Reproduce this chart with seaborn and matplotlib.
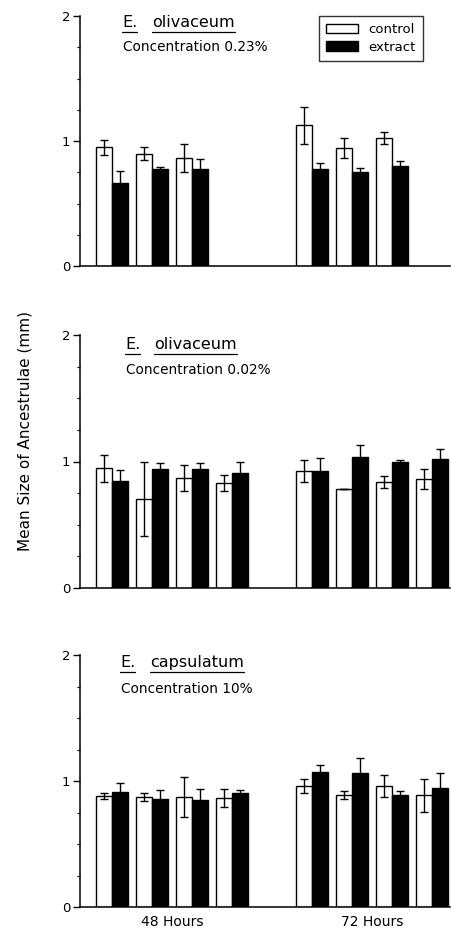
import numpy as np
import pandas as pd
import matplotlib
matplotlib.use("Agg")
import matplotlib.pyplot as plt
import matplotlib.transforms as mtransforms
from matplotlib.patches import Patch
from matplotlib.ticker import MultipleLocator
import seaborn as sns

# ---------------- data ----------------
hour_labels = ["48 Hours", "72 Hours"]
treatments = ["control", "extract"]

# panel 1: E. olivaceum 0.23%
p1_slots = [0, 1, 2, 5, 6, 7]
p1_control = [0.95, 0.90, 0.865, 1.125, 0.945, 1.025]
p1_control_err = [0.06, 0.055, 0.11, 0.145, 0.08, 0.05]
p1_extract = [0.665, 0.775, 0.775, 0.775, 0.75, 0.80]
p1_extract_err = [0.095, 0.02, 0.08, 0.047, 0.035, 0.04]

# panel 2: E. olivaceum 0.02%
p2_slots = [0, 1, 2, 3, 5, 6, 7, 8]
p2_control = [0.945, 0.705, 0.87, 0.83, 0.925, 0.78, 0.84, 0.86]
p2_control_err = [0.105, 0.29, 0.10, 0.06, 0.085, 0.0, 0.047, 0.08]
p2_extract = [0.845, 0.94, 0.94, 0.91, 0.925, 1.035, 1.0, 1.02]
p2_extract_err = [0.09, 0.05, 0.05, 0.09, 0.10, 0.095, 0.013, 0.08]

# panel 3: E. capsulatum 10%
p3_slots = [0, 1, 2, 3, 5, 6, 7, 8]
p3_control = [0.88, 0.875, 0.875, 0.865, 0.96, 0.89, 0.96, 0.885]
p3_control_err = [0.025, 0.03, 0.16, 0.075, 0.058, 0.032, 0.087, 0.128]
p3_extract = [0.915, 0.855, 0.85, 0.905, 1.075, 1.06, 0.885, 0.945]
p3_extract_err = [0.07, 0.077, 0.085, 0.024, 0.055, 0.12, 0.035, 0.12]

panels = [
    dict(genus="E.", species="olivaceum", conc="Concentration 0.23%",
         slots=p1_slots, c=p1_control, ce=p1_control_err, e=p1_extract, ee=p1_extract_err),
    dict(genus="E.", species="olivaceum", conc="Concentration 0.02%",
         slots=p2_slots, c=p2_control, ce=p2_control_err, e=p2_extract, ee=p2_extract_err),
    dict(genus="E.", species="capsulatum", conc="Concentration 10%",
         slots=p3_slots, c=p3_control, ce=p3_control_err, e=p3_extract, ee=p3_extract_err),
]

# ---------------- style ----------------
sns.set_style("ticks")
plt.rcParams["font.family"] = ["DejaVu Sans"]
plt.rcParams["axes.linewidth"] = 1.1
for k in ["text.color", "axes.labelcolor", "xtick.color", "ytick.color", "axes.edgecolor"]:
    plt.rcParams[k] = "black"

fig = plt.figure(figsize=(4.51, 9.36), dpi=100)

# axes boxes (left, bottom, width, height) in figure fraction
boxes = [
    (80 / 451, 1 - 266 / 936, 370 / 451, 250 / 936),
    (80 / 451, 1 - 588 / 936, 370 / 451, 253 / 936),
    (80 / 451, 1 - 907 / 936, 370 / 451, 252 / 936),
]
# text placement per panel (axes fraction): genus x, species x, title y, conc x, conc y
text_pos = [
    (0.114, 0.195, 0.956, 0.117, 0.860),
    (0.122, 0.200, 0.945, 0.124, 0.846),
    (0.108, 0.189, 0.952, 0.111, 0.850),
]

palette = {"control": "white", "extract": "black"}

axes = []
for i, (p, box) in enumerate(zip(panels, boxes)):
    ax = fig.add_axes(box)
    axes.append(ax)
    df = pd.DataFrame({
        "slot": list(p["slots"]) * 2,
        "mean": list(p["c"]) + list(p["e"]),
        "err": list(p["ce"]) + list(p["ee"]),
        "treatment": ["control"] * len(p["slots"]) + ["extract"] * len(p["slots"]),
    })
    sns.barplot(data=df, x="slot", y="mean", hue="treatment", hue_order=treatments,
                native_scale=True, palette=palette, edgecolor="black", linewidth=1.0,
                errorbar=None, width=0.8, ax=ax, legend=False)
    # error bars from bar geometry
    for cont, tr in zip(ax.containers, treatments):
        sub = df[df["treatment"] == tr].sort_values("slot")
        xs = [b.get_x() + b.get_width() / 2 for b in cont]
        ys = [b.get_height() for b in cont]
        ax.errorbar(xs, ys, yerr=sub["err"].values, fmt="none", ecolor="black",
                    elinewidth=1.0, capsize=3, capthick=1.0, zorder=5)

    ax.set_xlim(-0.8, 8.45)
    ax.set_ylim(0, 2)
    ax.set_yticks([0, 1, 2])
    ax.set_yticklabels(["0", "1", "2"], fontsize=9.5)
    ax.yaxis.set_minor_locator(MultipleLocator(0.25))
    ax.tick_params(axis="y", which="major", direction="out", length=5, width=1, pad=2)
    ax.tick_params(axis="y", which="minor", direction="out", length=2, width=0.8)
    sns.despine(ax=ax)
    ax.set_xlabel("")
    ax.set_ylabel("")
    if i == 2:
        ax.set_xticks([1.5, 6.5])
        ax.set_xticklabels(hour_labels, fontsize=10)
        ax.tick_params(axis="x", length=0, pad=6)
    else:
        ax.set_xticks([])

    gx, sx, ty, cx, cy = text_pos[i]
    t1 = ax.text(gx, ty, p["genus"], transform=ax.transAxes, fontsize=11.5, va="baseline", ha="left")
    t2 = ax.text(sx, ty, p["species"], transform=ax.transAxes, fontsize=11.5, va="baseline", ha="left")
    ax.text(cx, cy, p["conc"], transform=ax.transAxes, fontsize=9.8, va="baseline", ha="left")
    p["_texts"] = (t1, t2, ty)

    if i == 0:
        handles = [Patch(facecolor=palette[t], edgecolor="black", linewidth=1.0, label=t) for t in treatments]
        leg = ax.legend(handles=handles, loc="upper right", bbox_to_anchor=(0.927, 1.0),
                        borderaxespad=0.0,
                        frameon=True, fancybox=False, edgecolor="black", fontsize=9.5,
                        handlelength=2.4, handleheight=0.75, borderpad=0.55, labelspacing=0.35,
                        handletextpad=0.8)
        leg.get_frame().set_linewidth(1.0)

fig.text(0.055, 0.539, "Mean Size of Ancestrulae (mm)", rotation=90, ha="center", va="center",
         fontsize=11)

# underline genus and species words
fig.canvas.draw()
renderer = fig.canvas.get_renderer()
for ax, p in zip(axes, panels):
    t1, t2, ty = p["_texts"]
    off = mtransforms.offset_copy(ax.transAxes, fig=fig, y=-5, units="dots")
    for t in (t1, t2):
        bb = t.get_window_extent(renderer).transformed(ax.transAxes.inverted())
        ax.plot([bb.x0, bb.x1], [ty, ty], color="black", lw=0.9, transform=off, clip_on=False)

fig.savefig("out.png", dpi=100)
